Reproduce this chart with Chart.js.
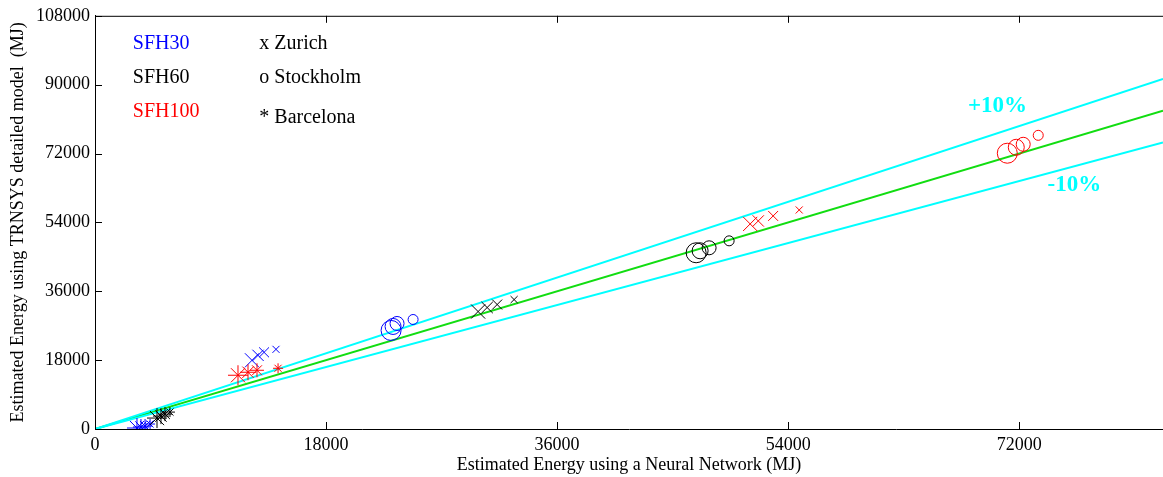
<!DOCTYPE html>
<html lang="en">
<head>
    <meta charset="UTF-8">
    <title>TRNSYS vs Neural Network</title>
    <script src="https://cdn.jsdelivr.net/npm/chart.js"></script>
    <style>
        html, body { margin: 0; padding: 0; overflow: hidden; background: #fff; }
        canvas { display: block; }
    </style>
</head>
<body>
    <canvas id="chart" width="1163" height="477"></canvas>
    <script>
        // axis ticks
        const xTicks = [0, 18000, 36000, 54000, 72000];
        const yTicks = [0, 18000, 36000, 54000, 72000, 90000, 108000];
        const xMax = 83200;

        // marker sizes, largest first (same for every cluster)
        const markerSizes = [10, 8, 7, 5];

        // Zurich (x)
        const zurich30X = [12230, 12700, 13170, 14100];
        const zurich30Y = [17950, 19250, 20040, 20820];
        const zurich60X = [29845, 30550, 31330, 32650];
        const zurich60Y = [30700, 31750, 32530, 33830];
        const zurich100X = [51040, 51670, 52830, 54860];
        const zurich100Y = [53600, 54380, 55690, 57250];

        // Stockholm (o)
        const stockholm30X = [23065, 23220, 23530, 24780];
        const stockholm30Y = [25760, 26800, 27580, 28620];
        const stockholm60X = [46830, 47140, 47840, 49400];
        const stockholm60Y = [46060, 46580, 47360, 49180];
        const stockholm100X = [71070, 71770, 72310, 73480];
        const stockholm100Y = [72080, 73640, 74420, 76760];

        // Barcelona (*)
        const barcelona30X = [3270, 3580, 3900, 4290];
        const barcelona30Y = [260, 520, 780, 1300];
        const barcelona60X = [4830, 5140, 5450, 5840];
        const barcelona60Y = [2860, 3380, 3900, 4420];
        const barcelona100X = [11140, 11920, 12620, 14260];
        const barcelona100Y = [14050, 14830, 15350, 15870];

        // reference lines (end points)
        const refX = [0, 83200];
        const equalY = [0, 83200];
        const plus10Y = [0, 91520];
        const minus10Y = [0, 74880];

        const serif = '"Liberation Serif", "Times New Roman", serif';
        const BLUE = '#0000ff', BLACK = '#000000', RED = '#ff0000';
        const CYAN = '#00ffff', GREEN = '#11dd11';

        function pts(xs, ys) {
            return xs.map((x, i) => ({ x: x, y: ys[i] }));
        }

        function markers(xs, ys, color, style) {
            return {
                type: 'scatter',
                data: pts(xs, ys),
                pointStyle: style,
                pointRadius: markerSizes,
                borderColor: color,
                backgroundColor: 'rgba(0,0,0,0)',
                pointBorderWidth: 1,
                order: 1
            };
        }

        function refLine(ys, color) {
            return {
                type: 'line',
                data: pts(refX, ys),
                borderColor: color,
                borderWidth: 2,
                pointRadius: 0,
                fill: false,
                order: 2
            };
        }

        // in-plot annotation texts, anchored in data units
        const notes = [
            { text: 'SFH30', x: 2950, y: 100700, color: BLUE, bold: false, size: 20 },
            { text: 'SFH60', x: 2950, y: 91900, color: BLACK, bold: false, size: 20 },
            { text: 'SFH100', x: 2950, y: 83000, color: RED, bold: false, size: 20 },
            { text: 'x Zurich', x: 12800, y: 100700, color: BLACK, bold: false, size: 20 },
            { text: 'o Stockholm', x: 12800, y: 91900, color: BLACK, bold: false, size: 20 },
            { text: '* Barcelona', x: 12800, y: 81300, color: BLACK, bold: false, size: 20 },
            { text: '+10%', x: 68000, y: 84400, color: CYAN, bold: true, size: 23 },
            { text: '-10%', x: 74200, y: 63800, color: CYAN, bold: true, size: 23 }
        ];

        const framePlugin = {
            id: 'frame',
            afterDatasetsDraw(chart) {
                const { ctx, chartArea: a, scales } = chart;
                const len = 7;
                ctx.save();
                ctx.strokeStyle = '#000';
                ctx.lineWidth = 1;
                ctx.beginPath();
                // top border
                ctx.moveTo(a.left, a.top + 0.5);
                ctx.lineTo(a.right, a.top + 0.5);
                // inward ticks
                xTicks.forEach(v => {
                    const px = Math.round(scales.x.getPixelForValue(v)) + 0.5;
                    ctx.moveTo(px, a.bottom);
                    ctx.lineTo(px, a.bottom - len);
                    ctx.moveTo(px, a.top);
                    ctx.lineTo(px, a.top + len);
                });
                yTicks.forEach(v => {
                    const py = Math.round(scales.y.getPixelForValue(v)) + 0.5;
                    ctx.moveTo(a.left, py);
                    ctx.lineTo(a.left + len, py);
                });
                ctx.stroke();

                notes.forEach(n => {
                    ctx.font = (n.bold ? 'bold ' : '') + n.size + 'px ' + serif;
                    ctx.fillStyle = n.color;
                    ctx.textAlign = 'left';
                    ctx.textBaseline = 'middle';
                    ctx.fillText(n.text, scales.x.getPixelForValue(n.x), scales.y.getPixelForValue(n.y));
                });
                ctx.restore();
            }
        };

        new Chart(document.getElementById('chart').getContext('2d'), {
            type: 'scatter',
            data: {
                datasets: [
                    refLine(plus10Y, CYAN),
                    refLine(minus10Y, CYAN),
                    refLine(equalY, GREEN),
                    markers(barcelona60X, barcelona60Y, BLACK, 'star'),
                    markers(barcelona30X, barcelona30Y, BLUE, 'star'),
                    markers(barcelona100X, barcelona100Y, RED, 'star'),
                    markers(zurich30X, zurich30Y, BLUE, 'crossRot'),
                    markers(zurich60X, zurich60Y, BLACK, 'crossRot'),
                    markers(zurich100X, zurich100Y, RED, 'crossRot'),
                    markers(stockholm30X, stockholm30Y, BLUE, 'circle'),
                    markers(stockholm60X, stockholm60Y, BLACK, 'circle'),
                    markers(stockholm100X, stockholm100Y, RED, 'circle')
                ]
            },
            options: {
                responsive: false,
                animation: false,
                layout: { autoPadding: false, padding: { top: 14, right: 0, left: 0, bottom: 0 } },
                plugins: {
                    legend: { display: false },
                    tooltip: { enabled: false }
                },
                scales: {
                    x: {
                        type: 'linear',
                        min: 0,
                        max: xMax,
                        afterBuildTicks: s => { s.ticks = xTicks.map(v => ({ value: v })); },
                        afterFit: s => { s.height = 48; s.paddingRight = 0; },
                        grid: { display: false, drawTicks: false },
                        border: { display: true, color: '#000', width: 1 },
                        ticks: {
                            color: '#000',
                            padding: 5,
                            maxRotation: 0,
                            font: { family: serif, size: 18 },
                            callback: v => String(v)
                        },
                        title: {
                            display: true,
                            text: 'Estimated Energy using a Neural Network (MJ)',
                            color: '#000',
                            font: { family: serif, size: 18 },
                            padding: { top: 0, bottom: 1 }
                        }
                    },
                    y: {
                        type: 'linear',
                        min: 0,
                        max: 108000,
                        afterBuildTicks: s => { s.ticks = yTicks.map(v => ({ value: v })); },
                        afterFit: s => { s.width = 95; s.paddingRight = 0; },
                        grid: { display: false, drawTicks: false },
                        border: { display: true, color: '#000', width: 1 },
                        ticks: {
                            color: '#000',
                            padding: 5,
                            font: { family: serif, size: 18 },
                            callback: v => String(v)
                        },
                        title: {
                            display: true,
                            text: 'Estimated Energy using TRNSYS detailed model  (MJ)',
                            color: '#000',
                            font: { family: serif, size: 18 },
                            padding: { top: 7, bottom: 0 }
                        }
                    }
                }
            },
            plugins: [framePlugin]
        });
    </script>
</body>
</html>
